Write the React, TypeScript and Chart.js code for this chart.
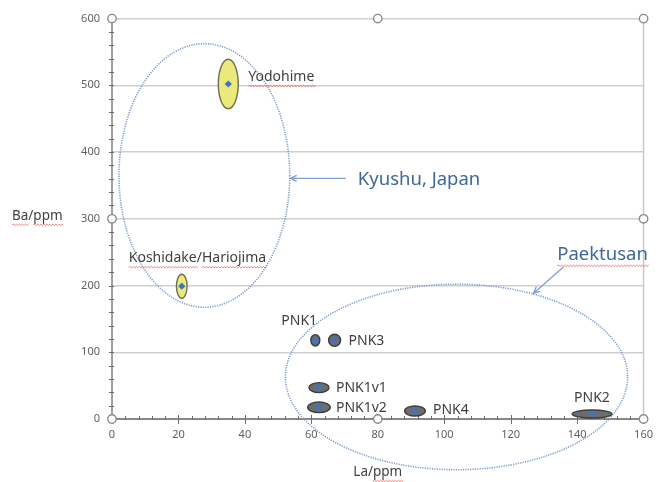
import React, { useEffect, useRef } from "react";
import { Chart, registerables } from "chart.js";

Chart.register(...registerables);

// ---- data ----
const pointLabels = ["Yodohime", "Koshidake/Hariojima", "PNK1", "PNK3", "PNK1v1", "PNK1v2", "PNK4", "PNK2"];
const laValues = [35, 21, 61.2, 67, 62.3, 62.3, 91.2, 144.5];
const baValues = [502, 199, 118, 118, 47, 17.5, 12, 7.5];
const laErr = [3, 1.6, 1.35, 1.8, 3, 3.4, 3.1, 6];
const baErr = [37, 18, 8.5, 9, 7.5, 8, 7.5, 6];
const isJapan = [true, true, false, false, false, false, false, false];

const xTicks = [0, 20, 40, 60, 80, 100, 120, 140, 160];
const yTicks = [0, 100, 200, 300, 400, 500, 600];

const groupNames = ["Kyushu, Japan", "Paektusan"];
const groupCenterLa = [27.8, 103.7];
const groupCenterBa = [365, 63];
const groupRadiusLa = [25.7, 51.5];
const groupRadiusBa = [197.5, 139];
const groupLabelLa = [74, 134];
const groupLabelBa = [358, 246];
const arrowFromLa = [70.4, 135.8];
const arrowFromBa = [360.6, 227.4];
const arrowToLa = [53.7, 126.9];
const arrowToBa = [360.6, 188.5];

// ---- style (pixel offsets for point labels) ----
const labelDx = [20, -53, -34, 14, 17, 17, 18, -18];
const labelDy = [-7, -28, -19, 1, 0, 1, -1, -16];
const labelUnderline: string[][] = [["Yodohime"], ["Koshidake", "Hariojima"], [], [], [], [], [], []];

const FONT = "'Noto Sans', 'Open Sans', sans-serif";

function squiggle(ctx: CanvasRenderingContext2D, x0: number, x1: number, y: number) {
  ctx.save();
  ctx.strokeStyle = "rgba(228,90,90,0.75)";
  ctx.lineWidth = 1;
  ctx.beginPath();
  let up = true;
  ctx.moveTo(x0, y);
  for (let x = x0; x < x1; x += 1.5) {
    ctx.lineTo(x + 1.5, y + (up ? -0.7 : 0.7));
    up = !up;
  }
  ctx.stroke();
  ctx.restore();
}

function drawText(
  ctx: CanvasRenderingContext2D,
  text: string,
  x: number,
  y: number,
  font: string,
  color: string,
  underline: string[],
  ulOffset: number
) {
  ctx.save();
  ctx.font = font;
  ctx.fillStyle = color;
  ctx.textAlign = "left";
  ctx.textBaseline = "middle";
  ctx.fillText(text, x, y);
  for (const w of underline) {
    const idx = text.indexOf(w);
    if (idx < 0) continue;
    const x0 = x + ctx.measureText(text.slice(0, idx)).width;
    const ww = ctx.measureText(w).width;
    squiggle(ctx, x0, x0 + ww, y + ulOffset);
  }
  ctx.restore();
}

function arrow(ctx: CanvasRenderingContext2D, x1: number, y1: number, x2: number, y2: number) {
  const a = Math.atan2(y2 - y1, x2 - x1);
  ctx.save();
  ctx.strokeStyle = "#7fa1cf";
  ctx.lineWidth = 1.3;
  ctx.beginPath();
  ctx.moveTo(x1, y1);
  ctx.lineTo(x2, y2);
  ctx.moveTo(x2 - 7 * Math.cos(a - 0.45), y2 - 7 * Math.sin(a - 0.45));
  ctx.lineTo(x2, y2);
  ctx.lineTo(x2 - 7 * Math.cos(a + 0.45), y2 - 7 * Math.sin(a + 0.45));
  ctx.stroke();
  ctx.restore();
}

const decorPlugin = {
  id: "decor",
  beforeDatasetsDraw(chart: any) {
    const ctx: CanvasRenderingContext2D = chart.ctx;
    const xs = chart.scales.x;
    const ys = chart.scales.y;
    const ca = chart.chartArea;
    ctx.save();
    // right border
    ctx.strokeStyle = "#c9c9c9";
    ctx.lineWidth = 1.5;
    ctx.beginPath();
    ctx.moveTo(ca.right, ca.top);
    ctx.lineTo(ca.right, ca.bottom);
    ctx.stroke();
    // axes
    ctx.strokeStyle = "#6e6e6e";
    ctx.lineWidth = 1.3;
    ctx.beginPath();
    ctx.moveTo(ca.left, ca.top);
    ctx.lineTo(ca.left, ca.bottom);
    ctx.moveTo(ca.left, ca.bottom);
    ctx.lineTo(ca.right, ca.bottom);
    ctx.stroke();
    ctx.lineWidth = 1;
    ctx.beginPath();
    for (let v = 0; v <= 600; v += 20) {
      const y = Math.round(ys.getPixelForValue(v)) + 0.5;
      ctx.moveTo(ca.left - 3, y);
      ctx.lineTo(ca.left + 2, y);
    }
    for (let v = 0; v <= 160; v += 4) {
      const x = Math.round(xs.getPixelForValue(v)) + 0.5;
      if (v % 20 === 0) {
        ctx.moveTo(x, ca.bottom - 4);
        ctx.lineTo(x, ca.bottom + 5);
      } else {
        ctx.moveTo(x, ca.bottom - 3);
        ctx.lineTo(x, ca.bottom + 1);
      }
    }
    ctx.stroke();

    // group ellipses (dotted)
    ctx.strokeStyle = "#7c9ccb";
    ctx.lineWidth = 1.6;
    ctx.setLineDash([1.2, 1.2]);
    for (let i = 0; i < groupNames.length; i++) {
      const cx = xs.getPixelForValue(groupCenterLa[i]);
      const cy = ys.getPixelForValue(groupCenterBa[i]);
      const rx = Math.abs(xs.getPixelForValue(groupCenterLa[i] + groupRadiusLa[i]) - cx);
      const ry = Math.abs(ys.getPixelForValue(groupCenterBa[i] + groupRadiusBa[i]) - cy);
      ctx.beginPath();
      ctx.ellipse(cx, cy, rx, ry, 0, 0, Math.PI * 2);
      ctx.stroke();
    }
    ctx.setLineDash([]);

    // data ellipses
    for (let i = 0; i < laValues.length; i++) {
      const cx = xs.getPixelForValue(laValues[i]);
      const cy = ys.getPixelForValue(baValues[i]);
      const rx = Math.abs(xs.getPixelForValue(laValues[i] + laErr[i]) - cx);
      const ry = Math.abs(ys.getPixelForValue(baValues[i] + baErr[i]) - cy);
      ctx.beginPath();
      ctx.ellipse(cx, cy, rx, ry, 0, 0, Math.PI * 2);
      ctx.fillStyle = isJapan[i] ? "#ece97c" : "#6b6d70";
      ctx.fill();
      ctx.strokeStyle = isJapan[i] ? "#6f6f55" : "#3c3c3c";
      ctx.lineWidth = 1.4;
      ctx.stroke();
    }
    ctx.restore();
  },
  afterDatasetsDraw(chart: any) {
    const ctx: CanvasRenderingContext2D = chart.ctx;
    const xs = chart.scales.x;
    const ys = chart.scales.y;
    const ca = chart.chartArea;

    // point labels
    for (let i = 0; i < pointLabels.length; i++) {
      const x = xs.getPixelForValue(laValues[i]) + labelDx[i];
      const y = ys.getPixelForValue(baValues[i]) + labelDy[i];
      drawText(ctx, pointLabels[i], x, y, `14px ${FONT}`, "#3f3f3f", labelUnderline[i], 9);
    }

    // arrows and group labels
    for (let i = 0; i < groupNames.length; i++) {
      arrow(
        ctx,
        xs.getPixelForValue(arrowFromLa[i]),
        ys.getPixelForValue(arrowFromBa[i]),
        xs.getPixelForValue(arrowToLa[i]),
        ys.getPixelForValue(arrowToBa[i])
      );
      drawText(
        ctx,
        groupNames[i],
        xs.getPixelForValue(groupLabelLa[i]),
        ys.getPixelForValue(groupLabelBa[i]),
        `18.5px ${FONT}`,
        "#3e689a",
        i === 1 ? ["Paektusan"] : [],
        11
      );
    }

    // axis titles
    drawText(ctx, "Ba/ppm", 12, (ca.top + ca.bottom) / 2 - 3, `13.5px ${FONT}`, "#3f3f3f", ["Ba", "ppm"], 9);
    ctx.save();
    ctx.font = `13.5px ${FONT}`;
    const w = ctx.measureText("La/ppm").width;
    ctx.restore();
    drawText(ctx, "La/ppm", (ca.left + ca.right) / 2 - w / 2, 472, `13.5px ${FONT}`, "#3f3f3f", ["ppm"], 9);
  },
  afterDraw(chart: any) {
    const ctx: CanvasRenderingContext2D = chart.ctx;
    const ca = chart.chartArea;
    const mx = (ca.left + ca.right) / 2;
    const my = (ca.top + ca.bottom) / 2;
    const handles = [
      [ca.left, ca.top],
      [mx, ca.top],
      [ca.right, ca.top],
      [ca.left, my],
      [ca.right, my],
      [ca.left, ca.bottom],
      [mx, ca.bottom],
      [ca.right, ca.bottom],
    ];
    ctx.save();
    for (const [hx, hy] of handles) {
      ctx.beginPath();
      ctx.arc(hx, hy, 4.2, 0, Math.PI * 2);
      ctx.fillStyle = "#ffffff";
      ctx.fill();
      ctx.strokeStyle = "#8a8a8a";
      ctx.lineWidth = 1.4;
      ctx.stroke();
    }
    ctx.restore();
  },
};

export default function App() {
  const ref = useRef<HTMLCanvasElement | null>(null);
  useEffect(() => {
    document.body.style.margin = "0";
    const canvas = ref.current;
    if (!canvas) return;
    const chart = new Chart(canvas, {
      type: "scatter",
      data: {
        datasets: [
          {
            label: "centers",
            data: laValues.map((v, i) => ({ x: v, y: baValues[i] })),
            pointStyle: "rectRot",
            pointRadius: 3.6,
            backgroundColor: "#3f74c4",
            borderWidth: 0,
            clip: false as any,
          },
        ],
      },
      options: {
        responsive: false,
        animation: false,
        events: [],
        layout: { padding: { top: 18, right: 14, left: 0, bottom: 0 } },
        plugins: { legend: { display: false }, tooltip: { enabled: false }, title: { display: false } },
        scales: {
          x: {
            type: "linear",
            min: 0,
            max: 160,
            afterBuildTicks: (s: any) => {
              s.ticks = xTicks.map((v) => ({ value: v }));
            },
            afterFit: (s: any) => {
              s.height = 63;
            },
            ticks: { color: "#5f5f5f", font: { size: 11, family: FONT }, padding: 9, maxRotation: 0 },
            grid: { display: false, drawTicks: false },
            border: { display: false },
          },
          y: {
            type: "linear",
            min: 0,
            max: 600,
            afterBuildTicks: (s: any) => {
              s.ticks = yTicks.map((v) => ({ value: v }));
            },
            afterFit: (s: any) => {
              s.width = 112;
            },
            ticks: { color: "#5f5f5f", font: { size: 11, family: FONT }, padding: 12 },
            grid: { color: "#cfcfcf", lineWidth: 1.5, drawTicks: false },
            border: { display: false },
          },
        },
      },
      plugins: [decorPlugin],
    });
    return () => chart.destroy();
  }, []);
  return (
    <div style={{ width: 662, height: 482, background: "#fff" }}>
      <canvas ref={ref} width={662} height={482} style={{ display: "block" }} />
    </div>
  );
}
